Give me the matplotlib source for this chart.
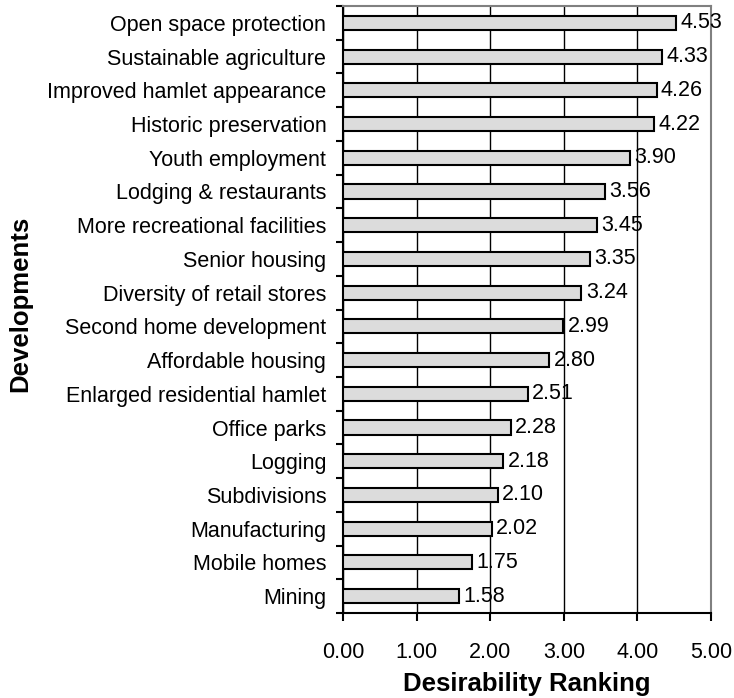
import matplotlib
matplotlib.use("Agg")
import matplotlib.pyplot as plt
import numpy as np

plt.rcParams['font.family'] = ['Liberation Sans', 'DejaVu Sans']

developments = [
    "Open space protection", "Sustainable agriculture", "Improved hamlet appearance",
    "Historic preservation", "Youth employment", "Lodging & restaurants",
    "More recreational facilities", "Senior housing", "Diversity of retail stores",
    "Second home development", "Affordable housing", "Enlarged residential hamlet",
    "Office parks", "Logging", "Subdivisions", "Manufacturing", "Mobile homes", "Mining",
]
ranking = [4.53, 4.33, 4.26, 4.22, 3.90, 3.56, 3.45, 3.35, 3.24,
           2.99, 2.80, 2.51, 2.28, 2.18, 2.10, 2.02, 1.75, 1.58]
x_ticks = [0, 1, 2, 3, 4, 5]

fig = plt.figure(figsize=(7.34, 6.98), dpi=100)
ax = fig.add_axes([343 / 734, 1 - 613 / 698, 368 / 734, 607 / 698])

n = len(developments)
y = np.arange(n)[::-1]
ax.barh(y, ranking, height=0.42, color='#dcdcdc', edgecolor='black',
        linewidth=1.5, zorder=3)
for yi, v in zip(y, ranking):
    ax.text(v + 0.06, yi, f"{v:.2f}", va='center', ha='left', fontsize=15.5, zorder=4)

ax.set_xlim(0, 5)
ax.set_ylim(-0.5, n - 0.5)
ax.set_xticks(x_ticks)
ax.set_xticklabels([f"{t:.2f}" for t in x_ticks], fontsize=15.5)
ax.set_yticks(y)
ax.set_yticklabels(developments, fontsize=15.5)
# tick marks sit between categories, labels at bar centers
ax.set_yticks(np.arange(-0.5, n, 1.0), minor=True)
ax.tick_params(axis='y', which='major', length=0, pad=12)
ax.tick_params(axis='y', which='minor', length=5, width=1.5, direction='out')
ax.tick_params(axis='x', length=6, width=1.5, direction='out', pad=15)

ax.grid(axis='x', color='black', linewidth=1, zorder=0)
ax.spines['left'].set_linewidth(1.5)
ax.spines['bottom'].set_linewidth(1.5)
for s in ('top', 'right'):
    ax.spines[s].set_color('#808080')
    ax.spines[s].set_linewidth(1.5)

ax.set_xlabel("Desirability Ranking", fontsize=18.5, fontweight='bold', labelpad=6)
fig.text(20 / 734, 1 - 304 / 698, "Developments", rotation=90, fontsize=18.5,
         fontweight='bold', ha='center', va='center')

fig.savefig("out.png", dpi=100)
